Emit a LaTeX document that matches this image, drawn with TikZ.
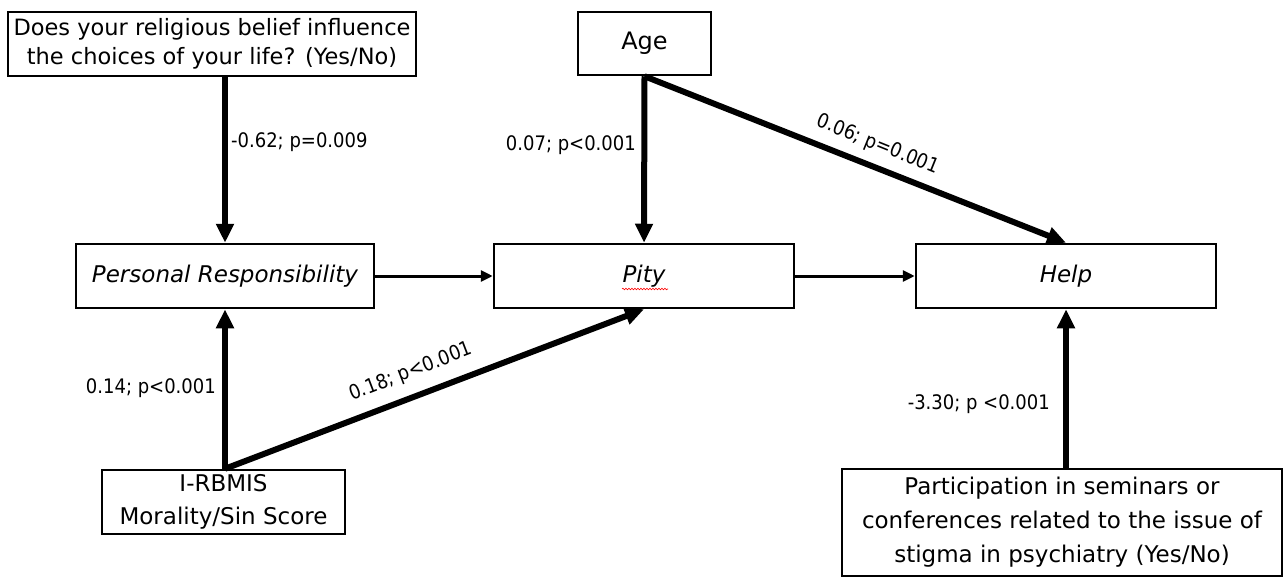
\documentclass[tikz,border=0pt]{standalone}
\usepackage{fontspec}
\setmainfont{DejaVu Sans Condensed}
\newfontfamily\boxfont{DejaVu Sans}
\usetikzlibrary{arrows.meta,decorations.pathmorphing}
\begin{document}
\begin{tikzpicture}[x=1pt,y=-1pt,
  box/.style={draw, line width=2.5pt, inner sep=0pt, align=center, font=\boxfont\fontsize{23}{30}\selectfont},
  thickarrow/.style={line width=6pt, -{Triangle[length=19pt,width=17pt]}},
  thinarrow/.style={line width=3pt, -{Triangle[length=12pt,width=11pt]}},
  lab/.style={inner sep=0pt, font=\fontsize{20}{24}\selectfont}]
\useasboundingbox (0,0) rectangle (1288,579);
% boxes
\node[box, minimum width=408, minimum height=64, font=\boxfont\fontsize{22.5}{29}\selectfont] (rel) at (212,44)
  {Does your religious belief influence\\the choices of your life? (Yes/No)};
\node[box, minimum width=133, minimum height=63, font=\boxfont\fontsize{24}{30}\selectfont] (age) at (644.5,43.5) {Age};
\node[box, minimum width=298, minimum height=64] (pr) at (225,276) {\itshape Personal Responsibility};
\node[box, minimum width=300, minimum height=64] (pity) at (644,276) {\itshape Pity};
\node[box, minimum width=300, minimum height=64] (help) at (1066,276) {\itshape Help};
\node[box, minimum width=243, minimum height=64, font=\boxfont\fontsize{23}{33}\selectfont] (irb) at (223.5,502)
  {I-RBMIS\\Morality/Sin Score};
\node[box, minimum width=440, minimum height=107, font=\boxfont\fontsize{23}{34}\selectfont] (part) at (1062,522.5)
  {Participation in seminars or\\conferences related to the issue of\\stigma in psychiatry (Yes/No)};
% spell-check underline
\draw[red, line width=0.6pt, decorate, decoration={snake, amplitude=0.8pt, segment length=3pt}]
  ([shift={(-22,13)}]pity.center) -- ([shift={(24,13)}]pity.center);
% connectors
\draw[thickarrow] (rel.south -| pr.north) -- (pr.north);
\draw[thickarrow] (age.south) -- (pity.north);
\draw[thickarrow] (age.south) -- (help.north);
\draw[thickarrow] (irb.north -| pr.south) -- (pr.south);
\draw[thickarrow] (irb.north -| pr.south) -- (pity.south);
\draw[thickarrow] (part.north -| help.south) -- (help.south);
\draw[thinarrow] (pr.east) -- (pity.west);
\draw[thinarrow] (pity.east) -- (help.west);
% labels
\node[lab, anchor=west] (l1) at (231,142) {-0.62; p=0.009};
\node[lab, anchor=east] (l2) at (636,145) {0.07; p<0.001};
\node[lab, rotate=-22] (l3) at (878,145) {0.06; p=0.001};
\node[lab, anchor=east] (l4) at (216,388) {0.14; p<0.001};
\node[lab, rotate=21] (l5) at (411,372) {0.18; p<0.001};
\node[lab, anchor=east] (l6) at (1050,404) {-3.30; p <0.001};
\end{tikzpicture}
\end{document}
